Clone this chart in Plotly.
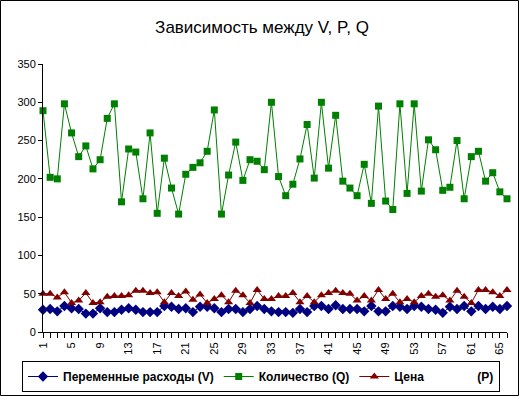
import plotly.graph_objects as go

periods = list(range(1, 67))

variable_costs_v = [29, 30, 27, 34, 31, 30, 24, 24, 31, 26, 26, 29, 31, 29, 26, 26, 26, 34, 33, 30,
                    31, 26, 33, 33, 31, 26, 30, 30, 26, 30, 34, 30, 27, 26, 26, 25, 30, 26, 34, 34,
                    30, 35, 30, 30, 30, 27, 34, 27, 27, 34, 33, 30, 34, 33, 30, 29, 25, 33, 30, 34,
                    27, 34, 30, 33, 30, 34]

quantity_q = [289, 202, 200, 298, 260, 229, 243, 213, 225, 279, 298, 170, 239, 235, 174, 260, 155, 227, 188, 154,
              206, 215, 221, 236, 290, 154, 205, 248, 198, 225, 223, 212, 300, 203, 178, 193, 226, 271, 201, 300,
              214, 283, 197, 188, 178, 219, 168, 295, 171, 160, 298, 181, 298, 184, 251, 238, 185, 189, 250, 174,
              229, 236, 197, 208, 183, 174]

price_p = [50, 50, 45, 52, 38, 41, 51, 38, 39, 46, 47, 47, 48, 54, 54, 51, 52, 39, 51, 47,
           53, 42, 49, 38, 43, 48, 39, 54, 48, 38, 55, 43, 43, 47, 47, 51, 39, 47, 39, 48,
           51, 54, 51, 50, 41, 47, 41, 55, 43, 50, 39, 43, 39, 47, 50, 46, 48, 41, 54, 46,
           38, 55, 55, 52, 47, 55]

series_names = ["Переменные расходы (V)", "Количество (Q)", "Цена                (P)"]
x_tick_labels = [str(p) if (p - 1) % 4 == 0 else "" for p in periods]

W, H = 520, 397
L, R, T, B = 43, 13, 64, 65
pw, ph = W - L - R, H - T - B

def px_x(v):
    return (v - L) / pw

def px_y(v):
    return (H - B - v) / ph

fig = go.Figure()
fig.add_trace(go.Scatter(x=periods, y=variable_costs_v, name=series_names[0], mode="lines+markers",
                         line=dict(color="#000080", width=1),
                         marker=dict(symbol="diamond", size=8, color="#000080"), cliponaxis=False))
fig.add_trace(go.Scatter(x=periods, y=quantity_q, name=series_names[1], mode="lines+markers",
                         line=dict(color="#008000", width=1),
                         marker=dict(symbol="square", size=7, color="#008000"), cliponaxis=False))
fig.add_trace(go.Scatter(x=periods, y=price_p, name=series_names[2], mode="lines+markers",
                         line=dict(color="#800000", width=1),
                         marker=dict(symbol="triangle-up", size=8, color="#800000"), cliponaxis=False))

fig.update_layout(
    width=W, height=H,
    margin=dict(l=L, r=R, t=T, b=B, pad=0, autoexpand=False),
    paper_bgcolor="white", plot_bgcolor="white",
    font=dict(family="Arial, Liberation Sans, sans-serif", size=11, color="black"),
    title=dict(text="Зависимость между V, P, Q", x=262 / W, xanchor="center",
               y=1 - 27 / H, yanchor="middle", yref="container", xref="container",
               font=dict(size=17, color="black")),
    showlegend=True,
    legend=dict(orientation="h", x=px_x(22), xanchor="left", y=px_y(361), yanchor="top",
                bordercolor="black", borderwidth=1, bgcolor="white",
                font=dict(size=12, color="black", family="Arial, Liberation Sans, sans-serif",
                          weight="bold"),
                itemwidth=30, tracegroupgap=0),
    xaxis=dict(range=[1, 66], tickmode="array", tickvals=periods, ticktext=x_tick_labels,
               tickangle=-90, ticks="outside", ticklen=5, tickcolor="black", showgrid=False,
               showline=True, linecolor="black", linewidth=1, zeroline=False, automargin=False,
               tickfont=dict(size=11)),
    yaxis=dict(range=[0, 350], dtick=50, ticks="outside", ticklen=4, tickcolor="black",
               showgrid=False, showline=True, linecolor="black", linewidth=1, zeroline=False,
               automargin=False, tickfont=dict(size=11)),
    shapes=[dict(type="rect", xref="paper", yref="paper",
                 x0=px_x(0.5), x1=px_x(518.5), y0=px_y(395.5), y1=px_y(0.5),
                 line=dict(color="black", width=1), fillcolor="rgba(0,0,0,0)", layer="above")],
)

fig.write_html("out.html", config={"displayModeBar": False},
               post_script="document.body.style.margin='0px';document.body.style.overflow='hidden';")
